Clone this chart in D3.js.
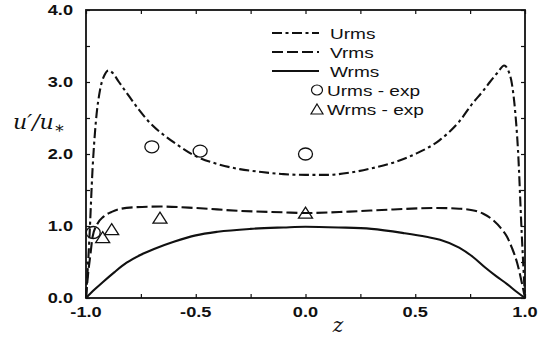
<!DOCTYPE html>
<html>
<head>
<meta charset="utf-8">
<script src="https://cdn.jsdelivr.net/npm/d3@7"></script>
<style>
  html, body { margin: 0; padding: 0; background: #fff; }
  svg { display: block; }
</style>
</head>
<body>
<svg id="chart" width="545" height="344"></svg>
<script>
// RMS velocity profiles across the channel, z in [-1, 1]
const urmsZ = [-1, -0.985, -0.97, -0.955, -0.936, -0.915, -0.898, -0.88, -0.85, -0.815, -0.76, -0.708, -0.64, -0.58, -0.5, -0.4, -0.3, -0.2, -0.1, 0, 0.1, 0.2, 0.3, 0.4, 0.5, 0.61, 0.7, 0.763, 0.81, 0.84, 0.875, 0.905, 0.925, 0.94, 0.955, 0.968, 0.985, 1];
const urmsV = [0, 0.8, 1.8, 2.45, 2.89, 3.1, 3.16, 3.13, 3.0, 2.85, 2.62, 2.43, 2.25, 2.12, 1.97, 1.86, 1.79, 1.75, 1.72, 1.71, 1.71, 1.74, 1.8, 1.88, 2.0, 2.19, 2.45, 2.71, 2.88, 3.0, 3.13, 3.23, 3.15, 2.98, 2.6, 2.06, 0.9, 0];

const vrmsZ = [-1, -0.99, -0.98, -0.97, -0.95, -0.92, -0.88, -0.84, -0.78, -0.66, -0.5, -0.3, -0.1, 0, 0.2, 0.4, 0.6, 0.7, 0.76, 0.81, 0.855, 0.89, 0.918, 0.94, 0.964, 0.985, 1];
const vrmsV = [0, 0.35, 0.6, 0.85, 1.02, 1.13, 1.2, 1.24, 1.26, 1.27, 1.25, 1.21, 1.19, 1.18, 1.2, 1.23, 1.25, 1.24, 1.22, 1.17, 1.08, 0.97, 0.85, 0.7, 0.49, 0.22, 0];

const wrmsZ = [-1, -0.96, -0.92, -0.87, -0.815, -0.75, -0.69, -0.6, -0.5, -0.4, -0.25, -0.1, 0, 0.15, 0.3, 0.45, 0.55, 0.613, 0.7, 0.763, 0.82, 0.87, 0.92, 0.96, 1];
const wrmsV = [0, 0.12, 0.23, 0.36, 0.49, 0.6, 0.68, 0.78, 0.87, 0.92, 0.96, 0.98, 0.99, 0.98, 0.96, 0.9, 0.85, 0.81, 0.7, 0.57, 0.42, 0.3, 0.19, 0.09, 0];

// Measurements
const urmsExpZ = [-0.967, -0.7, -0.48, 0];
const urmsExpV = [0.91, 2.1, 2.04, 2.0];
const wrmsExpZ = [-0.924, -0.883, -0.663, 0];
const wrmsExpV = [0.83, 0.94, 1.1, 1.17];

const xTickLabels = ["-1.0", "-0.5", "0.0", "0.5", "1.0"];
const yTickLabels = ["0.0", "1.0", "2.0", "3.0", "4.0"];
const legendLines = ["Urms", "Vrms", "Wrms"];
const legendMarks = ["Urms - exp", "Wrms - exp"];

const svg = d3.select("#chart");
const plotL = 86, plotR = 525, plotT = 10, plotB = 298;

const x = d3.scaleLinear().domain([-1, 1]).range([plotL, plotR]);
const y = d3.scaleLinear().domain([0, 4]).range([plotB, plotT]);

const ink = "#111";
const sansFont = "'Liberation Sans', Arial, sans-serif";
const serifFont = "'DejaVu Serif', 'Liberation Serif', serif";
const widen = 1.3; // lettering is set wide

// text placed at (px, py), horizontally widened about its anchor
function label(parent, px, py, txt, opts) {
  const t = parent.append("text")
    .attr("transform", `translate(${px},${py}) scale(${opts.sx || 1},1)`)
    .attr("text-anchor", opts.anchor || "start")
    .attr("font-family", opts.family || sansFont)
    .attr("font-size", opts.size || 14)
    .attr("font-weight", opts.weight || "normal")
    .attr("font-style", opts.style || "normal")
    .attr("fill", ink);
  if (txt !== null) t.text(txt);
  return t;
}

// frame
svg.append("rect")
  .attr("x", plotL).attr("y", plotT)
  .attr("width", plotR - plotL).attr("height", plotB - plotT)
  .attr("fill", "none").attr("stroke", ink).attr("stroke-width", 1.8);

const xTicks = d3.range(-1, 1.0001, 0.25);
const yTicks = d3.range(0, 4.0001, 0.5);
const tl = 4;

// inward ticks on all four sides
const axB = d3.axisBottom(x).tickValues(xTicks).tickSizeInner(-tl).tickSizeOuter(0).tickFormat("");
const axT = d3.axisTop(x).tickValues(xTicks).tickSizeInner(-tl).tickSizeOuter(0).tickFormat("");
const axL = d3.axisLeft(y).tickValues(yTicks).tickSizeInner(-tl).tickSizeOuter(0).tickFormat("");
const axR = d3.axisRight(y).tickValues(yTicks).tickSizeInner(-tl).tickSizeOuter(0).tickFormat("");
[[axB, `translate(0,${plotB})`], [axT, `translate(0,${plotT})`], [axL, `translate(${plotL},0)`], [axR, `translate(${plotR},0)`]]
  .forEach(([ax, tr]) => {
    const g = svg.append("g").attr("transform", tr).call(ax);
    g.select(".domain").remove();
    g.selectAll("line").attr("stroke", ink).attr("stroke-width", 1.2);
  });

// tick labels
const tickG = svg.append("g");
xTickLabels.forEach(d => label(tickG, x(+d), plotB + 19, d,
  { anchor: "middle", weight: "bold", size: 14, sx: widen }));
yTickLabels.forEach(d => label(tickG, plotL - 13, y(+d) + 5, d,
  { anchor: "end", weight: "bold", size: 14, sx: widen }));

// axis titles
const yl = label(svg, 13, 129, null, { family: serifFont, style: "italic", size: 21, sx: 1.05 });
yl.append("tspan").text("u′/u");
yl.append("tspan").attr("font-size", 16).attr("dy", 4).text("∗");

label(svg, 338, 332, "z", { anchor: "middle", family: serifFont, style: "italic", size: 20 });

// profiles
const line = d3.line().x(d => x(d[0])).y(d => y(d[1])).curve(d3.curveMonotoneX);
const series = [
  { z: urmsZ, v: urmsV, dash: "10,3.5,3,3.5" },
  { z: vrmsZ, v: vrmsV, dash: "11,4" },
  { z: wrmsZ, v: wrmsV, dash: null }
];
series.forEach(s => {
  svg.append("path")
    .datum(s.z.map((z, i) => [z, s.v[i]]))
    .attr("d", line)
    .attr("fill", "none").attr("stroke", ink).attr("stroke-width", 2.1)
    .attr("stroke-dasharray", s.dash);
});

// measured points
svg.append("g").selectAll("ellipse").data(urmsExpZ.map((z, i) => [z, urmsExpV[i]])).join("ellipse")
  .attr("cx", d => x(d[0])).attr("cy", d => y(d[1]))
  .attr("rx", 7).attr("ry", 6)
  .attr("fill", "none").attr("stroke", ink).attr("stroke-width", 1.3);

const tri = (cx, cy, w, h) => `M${cx},${cy - h * 0.6}L${cx + w / 2},${cy + h * 0.4}L${cx - w / 2},${cy + h * 0.4}Z`;
svg.append("g").selectAll("path").data(wrmsExpZ.map((z, i) => [z, wrmsExpV[i]])).join("path")
  .attr("d", d => tri(x(d[0]), y(d[1]), 14, 11))
  .attr("fill", "none").attr("stroke", ink).attr("stroke-width", 1.3);

// legend
const lg = svg.append("g");
legendLines.forEach((name, i) => {
  const ly = 33 + i * 19;
  lg.append("line")
    .attr("x1", 272).attr("x2", 319).attr("y1", ly).attr("y2", ly)
    .attr("stroke", ink).attr("stroke-width", 2.1)
    .attr("stroke-dasharray", series[i].dash);
  label(lg, 330, ly + 5.5, name, { size: 15, sx: 1.27 });
});
legendMarks.forEach((name, i) => {
  const ly = 90 + i * 19;
  if (i === 0) {
    lg.append("ellipse").attr("cx", 317).attr("cy", ly).attr("rx", 5.5).attr("ry", 5)
      .attr("fill", "none").attr("stroke", ink).attr("stroke-width", 1.2);
  } else {
    lg.append("path").attr("d", tri(317, ly + 1, 12, 10))
      .attr("fill", "none").attr("stroke", ink).attr("stroke-width", 1.2);
  }
  label(lg, 327, ly + 5.5, name, { size: 15, sx: 1.27 });
});
</script>
</body>
</html>
